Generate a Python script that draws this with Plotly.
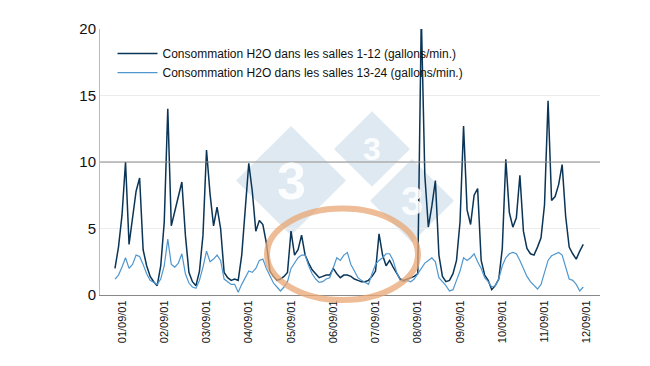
import plotly.graph_objects as go

# hours relative to 01/09/01 00:00, sampled every 2 hours
start_hour = -4
step_hours = 2

salles_1_12 = [
    2.0, 3.6, 6.0, 10.0, 3.8, 6.0, 7.8, 8.8, 3.4, 2.2,
    1.4, 1.0, 0.7, 2.2, 5.5, 14.0, 5.2, 6.3, 7.4, 8.5,
    4.5, 1.7, 1.0, 0.7, 1.8, 4.5, 10.9, 7.6, 5.2, 6.6,
    5.0, 1.7, 1.3, 1.1, 1.2, 1.1, 3.0, 6.3, 9.9, 7.8,
    4.8, 5.6, 5.3, 3.9, 1.8, 1.4, 1.1, 1.2, 1.4, 1.7,
    4.8, 3.0, 3.4, 4.5, 3.0, 2.4, 1.9, 1.6, 1.3, 1.4,
    1.5, 1.5, 2.0, 1.6, 1.3, 1.5, 1.5, 1.4, 1.2, 1.1,
    1.0, 1.0, 1.1, 1.4, 1.8, 4.6, 3.0, 2.2, 2.6, 2.1,
    1.6, 1.2, 1.1, 1.2, 1.3, 1.4, 1.6, 21.0, 9.0, 5.1,
    6.7, 8.6, 3.0, 1.4, 1.0, 1.1, 1.6, 2.6, 5.5, 12.7,
    6.4, 5.3, 7.5, 8.0, 2.6, 1.5, 1.1, 0.4, 0.7, 1.2,
    3.5, 10.2, 6.2, 5.1, 5.8, 9.0, 4.8, 3.5, 3.1, 3.0,
    3.6, 4.3, 6.8, 14.6, 7.1, 7.4, 8.3, 9.8, 5.9, 3.6,
    3.1, 2.7, 3.3, 3.8,
]

salles_13_24 = [
    1.2, 1.5, 2.1, 2.8, 2.0, 2.3, 3.0, 2.9, 2.3, 1.6,
    1.1, 0.95, 0.8, 1.2, 2.2, 4.2, 2.3, 2.1, 2.4, 3.1,
    1.6, 0.9, 0.6, 0.5, 1.1, 2.1, 3.3, 2.5, 2.7, 3.0,
    2.6, 1.2, 1.0, 0.8, 0.8, 0.2, 0.8, 1.3, 1.8, 1.7,
    2.0, 2.6, 2.7, 2.0, 1.4, 0.9, 0.6, 0.3, 0.6, 1.0,
    2.0, 2.4, 2.8, 3.0, 3.0, 2.2, 1.6, 1.2, 0.95, 1.0,
    1.2, 1.3, 2.1, 2.8, 2.6, 3.0, 3.2, 2.3, 1.8, 1.3,
    1.1, 0.95, 0.8, 1.6, 2.3, 2.6, 2.8, 3.1, 3.1, 2.6,
    1.7, 1.1, 1.0, 1.1, 1.0, 1.2, 1.6, 2.1, 2.4, 2.6,
    2.8, 2.5, 1.3, 1.0, 0.7, 0.3, 0.4, 1.1, 1.8, 2.8,
    2.6, 2.8, 3.1, 2.5, 2.0, 1.3, 1.0, 0.6, 0.7, 1.2,
    2.2, 2.8, 3.1, 3.2, 3.1, 2.6, 1.95, 1.4, 1.0, 0.7,
    0.45, 0.8, 1.8, 2.6, 2.95, 3.1, 3.2, 3.0, 2.0, 1.2,
    1.1, 0.8, 0.3, 0.6,
]

tick_labels = ["01/09/01", "02/09/01", "03/09/01", "04/09/01", "05/09/01", "06/09/01",
               "07/09/01", "08/09/01", "09/09/01", "10/09/01", "11/09/01", "12/09/01"]
y_ticks = [0, 5, 10, 15, 20]

name_dark = "Consommation H2O dans les salles 1-12 (gallons/min.)"
name_light = "Consommation H2O dans les salles 13-24 (gallons/min.)"

hours = [start_hour + step_hours * i for i in range(len(salles_1_12))]
tick_hours = [24 * i for i in range(len(tick_labels))]

FONT = "Arial, 'Liberation Sans', sans-serif"

fig = go.Figure()

# watermark diamonds (logo)
def diamond(cx, cy, rx, ry):
    return f"M {cx-rx},{cy} L {cx},{cy+ry} L {cx+rx},{cy} L {cx},{cy-ry} Z"

wm_color = "rgba(176,203,225,0.42)"
for cx, cy, rx, ry in [(0.382, 0.43, 0.11, 0.205), (0.544, 0.549, 0.076, 0.142), (0.624, 0.354, 0.084, 0.157)]:
    fig.add_shape(type="path", xref="paper", yref="paper", path=diamond(cx, cy, rx, ry),
                  fillcolor=wm_color, line=dict(width=0), layer="below")
for cx, cy, sz in [(0.382, 0.43, 52), (0.544, 0.549, 32), (0.624, 0.354, 40)]:
    fig.add_annotation(x=cx, y=cy, xref="paper", yref="paper", text="<b>3</b>", showarrow=False,
                       font=dict(family=FONT, size=sz, color="rgba(255,255,255,0.9)"))

fig.add_trace(go.Scatter(x=hours, y=salles_1_12, mode="lines", name=name_dark,
                         line=dict(color="#0b3556", width=1.5)))
fig.add_trace(go.Scatter(x=hours, y=salles_13_24, mode="lines", name=name_light,
                         line=dict(color="#4f97cf", width=1.2)))

# reference line at 10
fig.add_hline(y=10, line=dict(color="#8c8c8c", width=1))

# highlight ellipse
fig.add_shape(type="circle", xref="paper", yref="paper", x0=0.334, x1=0.636, y0=-0.019, y1=0.325,
              line=dict(color="rgba(232,165,115,0.75)", width=6))

fig.update_layout(
    width=642, height=358,
    margin=dict(l=92, r=50, t=19, b=71),
    paper_bgcolor="white", plot_bgcolor="white",
    showlegend=True,
    legend=dict(x=0.025, y=0.962, xanchor="left", yanchor="top", bgcolor="rgba(0,0,0,0)",
                font=dict(family=FONT, size=12, color="#111"), tracegroupgap=0,
                itemwidth=40),
    font=dict(family=FONT),
)
fig.update_xaxes(range=[-12.5, 271.5], tickvals=tick_hours, ticktext=tick_labels, tickangle=-90,
                 showgrid=False, zeroline=False, showline=True, linecolor="#888", linewidth=1,
                 ticks="", tickfont=dict(family=FONT, size=11, color="#111"))
fig.update_yaxes(range=[0, 20], tickvals=y_ticks, showgrid=True, gridcolor="#ececec", gridwidth=1,
                 zeroline=False, showline=True, linecolor="#bbb", linewidth=1, ticks="",
                 tickfont=dict(family=FONT, size=15, color="#111"))

fig.write_html("out.html")
